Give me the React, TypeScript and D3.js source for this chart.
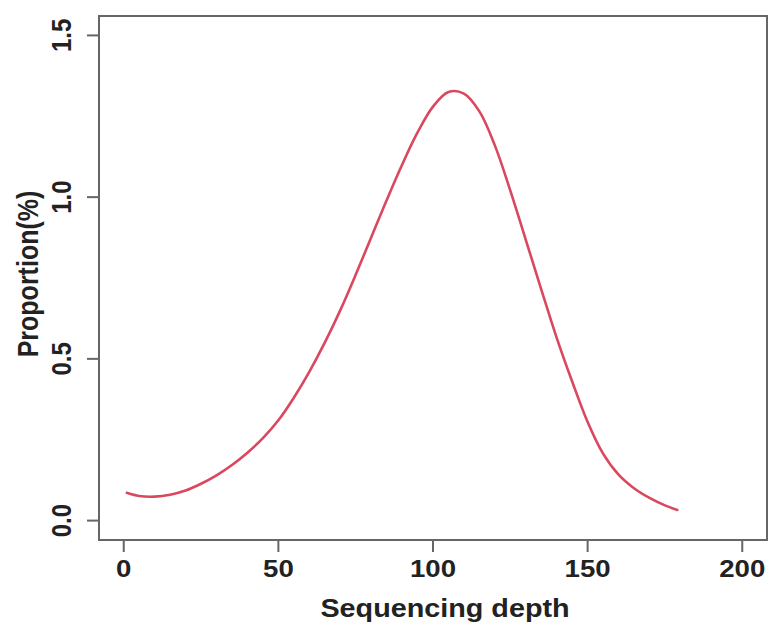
import React from "react";
import * as d3 from "d3";

// sequencing depth vs proportion(%)
const depth = [1, 5, 10, 15, 20, 25, 30, 35, 40, 45, 50, 55, 60, 65, 70, 75, 80, 85, 90, 95, 100, 105, 110, 115, 120, 125, 130, 135, 140, 145, 150, 155, 160, 165, 170, 175, 179];
const proportion = [0.086, 0.076, 0.074, 0.08, 0.093, 0.114, 0.14, 0.172, 0.21, 0.255, 0.31, 0.38, 0.46, 0.55, 0.65, 0.76, 0.875, 0.99, 1.1, 1.2, 1.28, 1.325, 1.32, 1.265, 1.16, 1.02, 0.868, 0.715, 0.565, 0.43, 0.305, 0.207, 0.142, 0.1, 0.07, 0.047, 0.033];
const xTicks = [0, 50, 100, 150, 200];
const yTicks = [0, 0.5, 1.0, 1.5];

const W = 776, H = 628;
const box = { left: 99, top: 16, right: 767, bottom: 540 };
const font = "'Liberation Sans', Arial, Helvetica, sans-serif";
const stretch = 1.15;

export default function App() {
  const x = d3.scaleLinear().domain([-8, 208]).range([box.left, box.right]);
  const y = d3.scaleLinear().domain([-0.06, 1.56]).range([box.bottom, box.top]);

  const pts = depth.map((d, i) => ({ d: d, p: proportion[i] }));
  const line = d3.line<{ d: number; p: number }>()
    .x(v => x(v.d))
    .y(v => y(v.p))
    .curve(d3.curveCatmullRom.alpha(0.5));

  const axisColor = "#666";

  return (
    <svg width={W} height={H} style={{ position: "absolute", left: 0, top: 0, background: "#fff" }}>
      <rect x={box.left} y={box.top} width={box.right - box.left} height={box.bottom - box.top}
        fill="none" stroke={axisColor} strokeWidth={2} />

      {/* x axis */}
      {xTicks.map(t => (
        <g key={"x" + t}>
          <line x1={x(t)} x2={x(t)} y1={box.bottom} y2={box.bottom + 12} stroke={axisColor} strokeWidth={2} />
          <text transform={`translate(${x(t)},${577}) scale(${stretch},1)`} textAnchor="middle"
            fontFamily={font} fontWeight="bold" fontSize={24} fill="#222">{t}</text>
        </g>
      ))}
      <text transform={`translate(${(box.left + box.right) / 2 + 12},${617}) scale(${stretch},1)`} textAnchor="middle"
        fontFamily={font} fontWeight="bold" fontSize={25} fill="#222">Sequencing depth</text>

      {/* y axis */}
      {yTicks.map(t => (
        <g key={"y" + t}>
          <line x1={box.left} x2={box.left - 12} y1={y(t)} y2={y(t)} stroke={axisColor} strokeWidth={2} />
          <text transform={`translate(${71},${y(t)}) scale(${stretch},1) rotate(-90)`} textAnchor="middle"
            fontFamily={font} fontWeight="bold" fontSize={24} fill="#222">{t.toFixed(1)}</text>
        </g>
      ))}
      <text transform={`translate(${38},${274}) scale(${stretch},1) rotate(-90)`} textAnchor="middle"
        fontFamily={font} fontWeight="bold" fontSize={25} fill="#222">Proportion(%)</text>

      <path d={line(pts) || ""} fill="none" stroke="#d9485e" strokeWidth={2.6} strokeLinecap="round" />
    </svg>
  );
}
